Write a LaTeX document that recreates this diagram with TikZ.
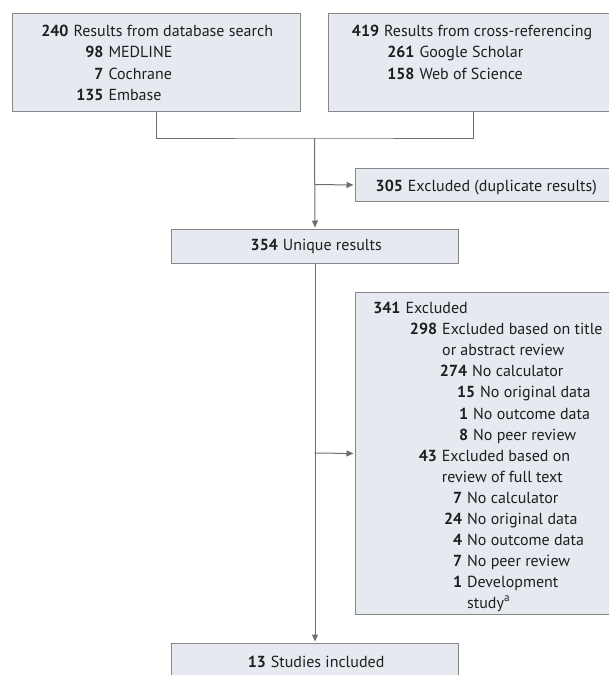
\documentclass[tikz,border=0pt]{standalone}
\usepackage{fontspec}
\setmainfont{PT Sans}
\usetikzlibrary{arrows.meta}
\definecolor{boxfill}{RGB}{230,234,240}
\definecolor{boxline}{RGB}{135,135,135}
\definecolor{conn}{RGB}{110,110,110}
\definecolor{ink}{RGB}{30,30,30}
\tikzset{
  box/.style={draw=boxline, fill=boxfill, line width=1pt, anchor=north west, inner sep=0pt},
  txt/.style={anchor=base west, inner sep=0pt, text=ink, font=\fontsize{16}{18}\selectfont},
  conline/.style={draw=conn, line width=1pt},
  arr/.style={conline, -{Triangle[length=7pt,width=6pt]}, shorten >=1.5pt},
}
\newcommand{\numtxt}[2]{\llap{\textbf{#1}\hspace{5pt}}#2}
\begin{document}
\begin{tikzpicture}[x=1pt,y=-1pt]
\useasboundingbox (0,0) rectangle (609,675);
\clip (0,0) rectangle (609,675);
% boxes
\node[box, minimum width=288pt, minimum height=98pt] (db) at (12,13) {};
\node[box, minimum width=290pt, minimum height=98pt] (xr) at (328,13) {};
\node[box, minimum width=263pt, minimum height=33pt] (dup) at (355,168) {};
\node[box, minimum width=287pt, minimum height=34pt] (uniq) at (171,229) {};
\node[box, minimum width=263pt, minimum height=322pt] (exc) at (355,292) {};
\node[box, minimum width=287pt, minimum height=47pt] (incl) at (171,643) {};
% texts box 1
\node[txt] (t1) at (73.3,36) {\numtxt{240}{Results from database search}};
\node[txt] (t2) at (108.3,57.3) {\numtxt{98}{MEDLINE}};
\node[txt] (t3) at (108.3,79) {\numtxt{7}{Cochrane}};
\node[txt] (t4) at (108.3,100) {\numtxt{135}{Embase}};
% box 2
\node[txt] (t5) at (384,36) {\numtxt{419}{Results from cross-referencing}};
\node[txt] (t6) at (419.3,57.3) {\numtxt{261}{Google Scholar}};
\node[txt] (t7) at (419.3,79) {\numtxt{158}{Web of Science}};
% dup
\node[txt] (t8) at (407.7,191) {\numtxt{305}{Excluded (duplicate results)}};
% unique
\node[txt] (t9) at (282.7,250.7) {\numtxt{354}{Unique results}};
% excluded
\node[txt] (e1) at (405.3,313) {\numtxt{341}{Excluded}};
\node[txt] (e2) at (442,334) {\numtxt{298}{Excluded based on title}};
\node[txt] (e3) at (442,355) {or abstract review};
\node[txt] (e4) at (472,376.5) {\numtxt{274}{No calculator}};
\node[txt] (e5) at (480,397.5) {\numtxt{15}{No original data}};
\node[txt] (e6) at (473,419) {\numtxt{1}{No outcome data}};
\node[txt] (e7) at (473,440) {\numtxt{8}{No peer review}};
\node[txt] (e8) at (441.7,461) {\numtxt{43}{Excluded based on}};
\node[txt] (e9) at (441.7,482) {review of full text};
\node[txt] (e10) at (467,503) {\numtxt{7}{No calculator}};
\node[txt] (e11) at (467,524) {\numtxt{24}{No original data}};
\node[txt] (e12) at (467,545) {\numtxt{4}{No outcome data}};
\node[txt] (e13) at (467,566) {\numtxt{7}{No peer review}};
\node[txt] (e14) at (467,587) {\numtxt{1}{Development}};
\node[txt] (e15) at (467,608) {study\textsuperscript{a}};
% included
\node[txt] (t10) at (270.7,667) {\numtxt{13}{Studies included}};
% connectors
\coordinate (join) at (314.5,138);
\coordinate (br1) at (314.5,184.5);
\coordinate (br2) at (314.5,453);
\draw[conline] (db.south) |- (join) -| (xr.south);
\draw[arr] (join) -- (uniq.north);
\draw[arr] (br1) -- (dup.west);
\draw[arr] (uniq.south) -- (incl.north);
\draw[arr] (br2) -- (exc.west);
\end{tikzpicture}
\end{document}
